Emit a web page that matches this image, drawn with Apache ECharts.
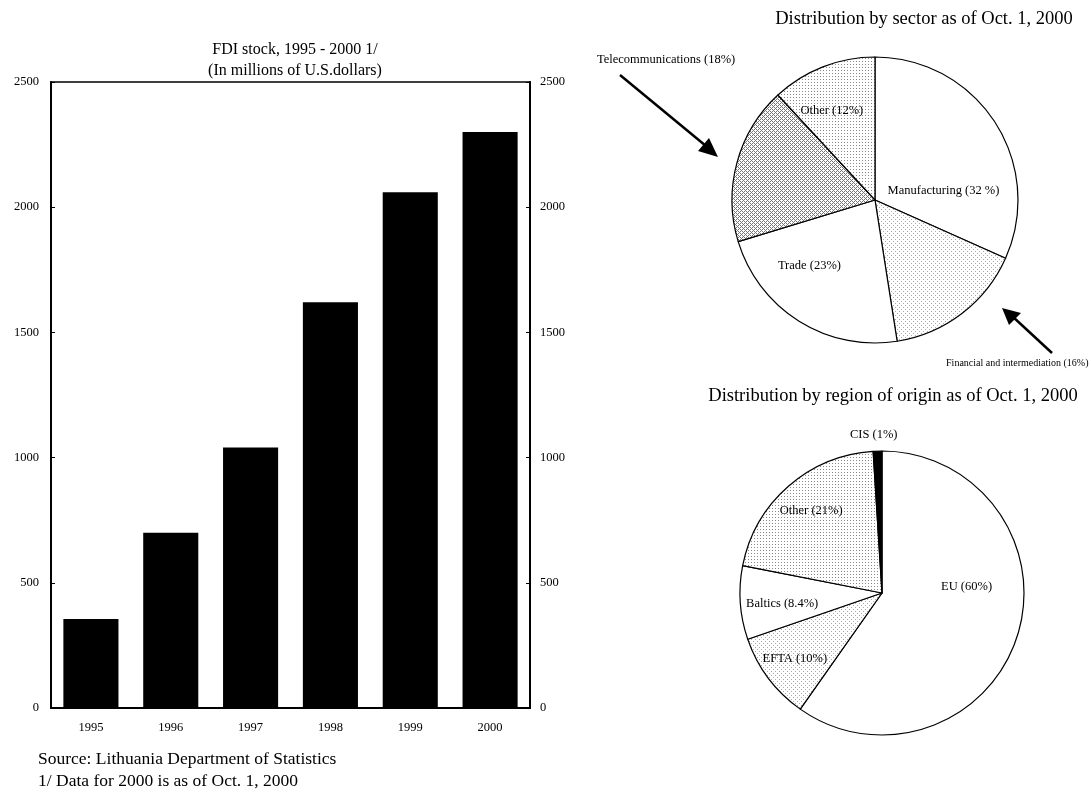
<!DOCTYPE html>
<html>
<head>
<meta charset="utf-8">
<script src="https://cdn.jsdelivr.net/npm/echarts@6/dist/echarts.min.js"></script>
<style>
html,body{margin:0;padding:0;background:#fff;}
#chart{width:1091px;height:795px;}
</style>
</head>
<body>
<div id="chart"></div>
<script>
// ---- data ----
const years = ['1995', '1996', '1997', '1998', '1999', '2000'];
const fdiStock = [355, 700, 1040, 1620, 2060, 2300];
const yTicks = [0, 500, 1000, 1500, 2000, 2500];

const sectorNames = ['Manufacturing', 'Financial and intermediation', 'Trade', 'Telecommunications', 'Other'];
const sectorValues = [32, 16, 23, 18, 12];
const sectorLabels = ['Manufacturing (32 %)', 'Financial and intermediation (16%)', 'Trade (23%)', 'Telecommunications (18%)', 'Other (12%)'];

const regionNames = ['EU', 'EFTA', 'Baltics', 'Other', 'CIS'];
const regionValues = [60, 10, 8.4, 21, 1];
const regionLabels = ['EU (60%)', 'EFTA (10%)', 'Baltics (8.4%)', 'Other (21%)', 'CIS (1%)'];

// ---- styles ----
const FONT = 'Liberation Serif';
function makePattern(size, pixels, color) {
  const c = document.createElement('canvas');
  c.width = size; c.height = size;
  const g = c.getContext('2d');
  g.fillStyle = '#fff'; g.fillRect(0, 0, size, size);
  g.fillStyle = color;
  pixels.forEach(p => g.fillRect(p[0], p[1], 1, 1));
  return { image: c, repeat: 'repeat' };
}
const patDense = makePattern(3, [[1, 1]], '#888');
const patSparse = makePattern(4, [[1, 1], [3, 3]], '#aaa');
const patHatch = makePattern(4, [[0, 3], [1, 2], [2, 1], [3, 0], [0, 1], [2, 3]], '#777');

const sectorFills = ['#ffffff', patSparse, '#ffffff', patHatch, patDense];
const sectorOffsets = [[6, 31], [97, 104], [-26, 3], [-137, -121], [-16, -20]];
const sectorFont = [12.5, 10, 12.5, 12.5, 12.5];

const regionFills = ['#ffffff', patSparse, '#ffffff', patDense, '#000000'];
const regionOffsets = [[14, -29], [-28, 21], [-26, 6], [-22, -27], [-6, -84]];

const chart = echarts.init(document.getElementById('chart'), null, { renderer: 'canvas' });

const tickStyle = { fontFamily: FONT, fontSize: 12.5, color: '#000' };

const option = {
  backgroundColor: '#fff',
  animation: false,
  title: [
    { text: 'FDI stock, 1995 - 2000 1/\n(In millions of U.S.dollars)', left: 290, top: 34, textAlign: 'center',
      textStyle: { fontFamily: FONT, fontSize: 16, fontWeight: 'normal', color: '#000', lineHeight: 21 } },
    { text: 'Distribution by sector as of Oct. 1, 2000', left: 919, top: 5, textAlign: 'center',
      textStyle: { fontFamily: FONT, fontSize: 18.5, fontWeight: 'normal', color: '#000' } },
    { text: 'Distribution by region of origin as of Oct. 1, 2000', left: 888, top: 382, textAlign: 'center',
      textStyle: { fontFamily: FONT, fontSize: 18.5, fontWeight: 'normal', color: '#000' } }
  ],
  grid: { left: 51, right: 561, top: 82, bottom: 87, show: true, borderColor: '#000', borderWidth: 1.5, backgroundColor: 'transparent' },
  xAxis: {
    type: 'category', data: years,
    axisLine: { lineStyle: { color: '#000', width: 2 } },
    axisTick: { show: false },
    axisLabel: { fontFamily: FONT, fontSize: 12.5, color: '#000', margin: 13 }
  },
  yAxis: [
    { type: 'value', min: 0, max: 2500, interval: 500, position: 'left',
      axisLine: { show: true, lineStyle: { color: '#000', width: 2 } },
      axisTick: { show: true, inside: true, length: 4, lineStyle: { color: '#000' } },
      axisLabel: Object.assign({ margin: 12, formatter: v => yTicks.includes(v) ? String(v) : '' }, tickStyle),
      splitLine: { show: false } },
    { type: 'value', min: 0, max: 2500, interval: 500, position: 'right',
      axisLine: { show: true, lineStyle: { color: '#000', width: 2 } },
      axisTick: { show: true, inside: true, length: 4, lineStyle: { color: '#000' } },
      axisLabel: Object.assign({ margin: 10, formatter: v => yTicks.includes(v) ? String(v) : '' }, tickStyle),
      splitLine: { show: false } }
  ],
  series: [
    { type: 'bar', data: fdiStock, yAxisIndex: 0, barCategoryGap: '31%',
      itemStyle: { color: '#000' } },
    { type: 'pie', center: [875, 200], radius: 143, startAngle: 90, clockwise: true,
      avoidLabelOverlap: false, labelLine: { show: false }, emphasis: { disabled: true },
      itemStyle: { borderColor: '#000', borderWidth: 1.2 },
      data: sectorNames.map((n, i) => ({
        name: n, value: sectorValues[i],
        itemStyle: { color: sectorFills[i] },
        label: { show: true, position: 'inside', formatter: sectorLabels[i], offset: sectorOffsets[i],
          fontFamily: FONT, fontSize: sectorFont[i], color: '#000' }
      }))
    },
    { type: 'pie', center: [882, 593], radius: 142, startAngle: 90, clockwise: true,
      avoidLabelOverlap: false, labelLine: { show: false }, emphasis: { disabled: true },
      itemStyle: { borderColor: '#000', borderWidth: 1.2 },
      data: regionNames.map((n, i) => ({
        name: n, value: regionValues[i],
        itemStyle: { color: regionFills[i] },
        label: { show: true, position: 'inside', formatter: regionLabels[i], offset: regionOffsets[i],
          fontFamily: FONT, fontSize: 12.5, color: '#000' }
      }))
    }
  ],
  graphic: [
    { type: 'text', left: 38, top: 750, style: { text: 'Source: Lithuania Department of Statistics', font: '17.5px "Liberation Serif"', fill: '#000' } },
    { type: 'text', left: 38, top: 772, style: { text: '1/ Data for 2000 is as of Oct. 1, 2000', font: '17.5px "Liberation Serif"', fill: '#000' } },
    // telecom arrow
    { type: 'line', shape: { x1: 620, y1: 75, x2: 706, y2: 146 }, style: { stroke: '#000', lineWidth: 2.5 } },
    { type: 'polygon', shape: { points: [[718, 157], [698, 151], [709, 138]] }, style: { fill: '#000' } },
    // financial arrow
    { type: 'line', shape: { x1: 1052, y1: 353, x2: 1012, y2: 316 }, style: { stroke: '#000', lineWidth: 2.5 } },
    { type: 'polygon', shape: { points: [[1002, 308], [1021, 313], [1009, 325]] }, style: { fill: '#000' } }
  ]
};
chart.setOption(option);
</script>
</body>
</html>
